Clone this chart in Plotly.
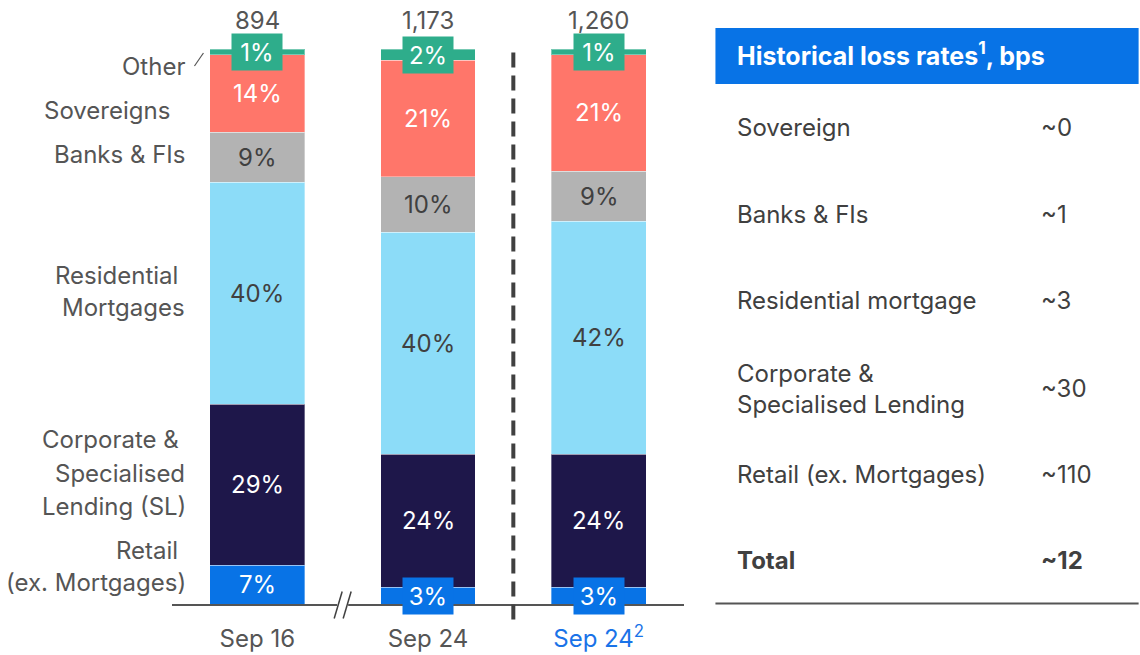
import plotly.graph_objects as go

# ---- data -------------------------------------------------------------
categories = ["Sep 16", "Sep 24", "Sep 24<sup>2</sup>"]
totals = [894, 1173, 1260]

retail = [7, 3, 3]
corporate = [29, 24, 24]
residential = [40, 40, 42]
banks = [9, 10, 9]
sovereigns = [14, 21, 21]
other = [1, 2, 1]

loss_rate_labels = ["Sovereign", "Banks & FIs", "Residential mortgage",
                    "Corporate &<br>Specialised Lending", "Retail (ex. Mortgages)", "Total"]
loss_rate_values = ["~0", "~1", "~3", "~30", "~110", "~12"]

# ---- style ------------------------------------------------------------
FONT = "Inter"
FS = 24
GREY_TXT = "#555555"
DARK_TXT = "#404040"
series = [
    ("Retail (ex. Mortgages)", retail, "#0873E6", "white"),
    ("Corporate & SL", corporate, "#1E174A", "white"),
    ("Residential Mortgages", residential, "#8CDCF8", DARK_TXT),
    ("Banks & FIs", banks, "#B3B3B3", DARK_TXT),
    ("Sovereigns", sovereigns, "#FF766A", "white"),
    ("Other", other, "#2EAD8B", "white"),
]

W, H = 1140, 655
L, R, T, B = 171.5, 684.5, 49.0, 604.5


def px(x):
    return (x - L) / (R - L)


def py(y):
    return (B - y) / (B - T)


fig = go.Figure()
for name, vals, color, _ in series:
    fig.add_trace(go.Bar(
        x=categories, y=vals, name=name,
        marker=dict(color=color, line=dict(width=1, color="rgba(255,255,255,0.35)")),
        hoverinfo="skip", showlegend=False,
    ))

annotations = []
shapes = []

# percentage labels inside each segment (boxed where the segment is thin)
for i, cat in enumerate(categories):
    base = 0
    for name, vals, color, tcol in series:
        v = vals[i]
        mid = base + v / 2
        base += v
        ann = dict(x=cat, y=mid, xref="x", yref="y", text=f"{v}%", showarrow=False,
                   font=dict(family=FONT, size=FS, color=tcol), xanchor="center", yanchor="middle")
        if v < 5:
            ann.update(bgcolor=color, width=48, height=34)
        annotations.append(ann)
    # totals above bars
    annotations.append(dict(x=cat, y=base, xref="x", yref="y", text=f"{totals[i]:,}",
                            showarrow=False, yshift=29, yanchor="middle",
                            font=dict(family=FONT, size=FS, color=GREY_TXT)))

# segment names to the left of the first bar
left_labels = [
    ("Other", 187, 67), ("Sovereigns", 172, 111), ("Banks & FIs", 187, 155),
    ("Residential", 180, 276), ("Mortgages", 187, 308),
    ("Corporate &", 181, 440), ("Specialised", 187, 474), ("Lending (SL)", 188, 507),
    ("Retail", 180, 551), ("(ex. Mortgages)", 188, 583),
]
for txt, xr, yc in left_labels:
    annotations.append(dict(x=px(xr), y=py(yc), xref="paper", yref="paper", text=txt,
                            showarrow=False, xanchor="right", yanchor="middle",
                            font=dict(family=FONT, size=FS, color=GREY_TXT)))

# leader for "Other"
shapes.append(dict(type="line", xref="paper", yref="paper",
                   x0=px(194), y0=py(66), x1=px(203), y1=py(53),
                   line=dict(color=GREY_TXT, width=1.2)))

# axis break marks on the baseline
shapes.append(dict(type="rect", xref="paper", yref="paper",
                   x0=px(337), x1=px(348), y0=py(608), y1=py(601),
                   fillcolor="white", line=dict(width=0), layer="above"))
for x0 in (334, 343):
    shapes.append(dict(type="line", xref="paper", yref="paper",
                       x0=px(x0), y0=py(619), x1=px(x0 + 8), y1=py(592),
                       line=dict(color=DARK_TXT, width=1.5)))

# dashed separator between the two Sep 24 bars
shapes.append(dict(type="line", xref="x", yref="paper", x0=1.5, x1=1.5,
                   y0=py(620), y1=py(52),
                   line=dict(color=DARK_TXT, width=4, dash="15px,8px")))

# loss-rate table
shapes.append(dict(type="rect", xref="paper", yref="paper",
                   x0=px(716), x1=px(1140), y0=py(84), y1=py(28),
                   fillcolor="#0873E6", line=dict(width=0)))
annotations.append(dict(x=px(736), y=py(54), xref="paper", yref="paper",
                        text="<b>Historical loss rates<sup>1</sup>, bps</b>", showarrow=False,
                        xanchor="left", yanchor="middle",
                        font=dict(family=FONT, size=25, color="white")))
row_y = [128, 215, 301, 389, 475, 561]
for lbl, val, yc in zip(loss_rate_labels, loss_rate_values, row_y):
    bold = lbl == "Total"
    t1 = f"<b>{lbl}</b>" if bold else lbl
    t2 = f"<b>{val}</b>" if bold else val
    annotations.append(dict(x=px(736), y=py(yc), xref="paper", yref="paper", text=t1,
                            showarrow=False, xanchor="left", yanchor="middle", align="left",
                            font=dict(family=FONT, size=FS, color=DARK_TXT)))
    annotations.append(dict(x=px(1040), y=py(yc), xref="paper", yref="paper", text=t2,
                            showarrow=False, xanchor="left", yanchor="middle",
                            font=dict(family=FONT, size=FS, color=DARK_TXT)))
shapes.append(dict(type="line", xref="paper", yref="paper",
                   x0=px(716), x1=px(1140), y0=py(604), y1=py(604),
                   line=dict(color=GREY_TXT, width=2)))

tick_text = [categories[0], categories[1],
             f'<span style="color:#1A73E8">{categories[2]}</span>']

fig.update_layout(
    width=W, height=H, autosize=False,
    margin=dict(l=L, r=W - R, t=T, b=H - B, pad=0, autoexpand=False),
    barmode="stack", bargap=0.444,
    plot_bgcolor="white", paper_bgcolor="white",
    font=dict(family=FONT, color=GREY_TXT),
    xaxis=dict(type="category", range=[-0.5, 2.5], showline=True, linecolor=GREY_TXT,
               linewidth=2, showgrid=False, zeroline=False, ticks="", automargin=False,
               tickvals=categories, ticktext=tick_text, ticklabelstandoff=12,
               tickfont=dict(family=FONT, size=FS, color=GREY_TXT), fixedrange=True),
    yaxis=dict(range=[0, 100], visible=False, fixedrange=True, automargin=False),
    annotations=annotations, shapes=shapes,
)

fig.write_html("out.html")
